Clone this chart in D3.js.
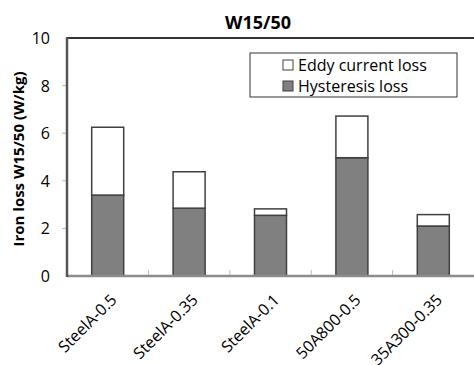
<!DOCTYPE html>
<html lang="en">
<head>
<meta charset="UTF-8">
<title>W15/50</title>
<script src="https://cdn.jsdelivr.net/npm/d3@7"></script>
<style>
  body { margin: 0; background: #fff; }
  text { font-family: "Open Sans", "Liberation Sans", sans-serif; fill: #000; }
</style>
</head>
<body>
<svg id="chart" width="474" height="365"></svg>
<script>
// data
var categories = ["SteelA-0.5", "SteelA-0.35", "SteelA-0.1", "50A800-0.5", "35A300-0.35"];
var hysteresis = [3.4, 2.85, 2.55, 4.97, 2.1];
var eddy = [2.85, 1.53, 0.27, 1.75, 0.48];
var yTicks = [0, 2, 4, 6, 8, 10];
var seriesNames = ["Eddy current loss", "Hysteresis loss"];

var svg = d3.select("#chart");
var plotL = 67, plotT = 38, plotR = 474, plotB = 276;

var x = d3.scaleBand().domain(categories).range([plotL, plotR]).paddingInner(0).paddingOuter(0);
var y = d3.scaleLinear().domain([0, 10]).range([plotB, plotT]);
var barW = 32;

// title
svg.append("text")
    .attr("x", 258).attr("y", 29)
    .attr("text-anchor", "middle")
    .style("font-size", "18px").style("font-weight", "bold")
    .text("W15/50");

// y axis label
svg.append("text")
    .attr("transform", "translate(24," + ((plotT + plotB) / 2 + 2) + ") rotate(-90)")
    .attr("text-anchor", "middle")
    .style("font-size", "15px").style("font-weight", "bold")
    .text("Iron loss W15/50  (W/kg)");

// y ticks
var yAxis = svg.append("g");
yAxis.selectAll("line").data(yTicks.slice(1, -1)).enter().append("line")
    .attr("x1", plotL - 5).attr("x2", plotL)
    .attr("y1", function (d) { return y(d); }).attr("y2", function (d) { return y(d); })
    .attr("stroke", "#bbb").attr("stroke-width", 1);
yAxis.selectAll("text").data(yTicks).enter().append("text")
    .attr("x", 50).attr("y", function (d) { return y(d) + 6; })
    .attr("text-anchor", "end")
    .style("font-size", "16px")
    .text(function (d) { return d; });

// x ticks between categories
svg.append("g").selectAll("line").data(categories.slice(1)).enter().append("line")
    .attr("x1", function (d) { return x(d); }).attr("x2", function (d) { return x(d); })
    .attr("y1", plotB - 6).attr("y2", plotB)
    .attr("stroke", "#bbb").attr("stroke-width", 1);

// bars
var g = svg.append("g");
categories.forEach(function (c, i) {
    var cx = x(c) + x.bandwidth() / 2;
    g.append("rect")
        .attr("x", cx - barW / 2).attr("y", y(hysteresis[i]))
        .attr("width", barW).attr("height", y(0) - y(hysteresis[i]))
        .attr("fill", "#808080").attr("stroke", "#404040").attr("stroke-width", 1.5);
    g.append("rect")
        .attr("x", cx - barW / 2).attr("y", y(hysteresis[i] + eddy[i]))
        .attr("width", barW).attr("height", y(hysteresis[i]) - y(hysteresis[i] + eddy[i]))
        .attr("fill", "#fff").attr("stroke", "#404040").attr("stroke-width", 1.5);
});

// axes lines
svg.append("line").attr("x1", plotL).attr("x2", plotR).attr("y1", plotB).attr("y2", plotB)
    .attr("stroke", "#8c8c8c").attr("stroke-width", 2.5);
svg.append("line").attr("x1", plotL).attr("x2", plotR).attr("y1", plotT).attr("y2", plotT)
    .attr("stroke", "#333").attr("stroke-width", 2);
svg.append("line").attr("x1", plotL).attr("x2", plotL).attr("y1", plotT - 1).attr("y2", plotB + 1)
    .attr("stroke", "#555").attr("stroke-width", 2.5);

// x labels
svg.append("g").selectAll("text").data(categories).enter().append("text")
    .attr("transform", function (d) {
        return "translate(" + (x(d) + x.bandwidth() / 2 + 2) + "," + (plotB + 17) + ") rotate(-45)";
    })
    .attr("text-anchor", "end")
    .attr("dy", "0.7em")
    .style("font-size", "16px")
    .text(function (d) { return d; });

// legend
var lg = svg.append("g");
lg.append("rect").attr("x", 250).attr("y", 53).attr("width", 207).attr("height", 44)
    .attr("fill", "#fff").attr("stroke", "#333").attr("stroke-width", 1);
var legendFill = ["#fff", "#808080"];
seriesNames.forEach(function (s, i) {
    lg.append("rect").attr("x", 283).attr("y", 60 + i * 21).attr("width", 10).attr("height", 10)
        .attr("fill", legendFill[i]).attr("stroke", "#404040").attr("stroke-width", 1);
    lg.append("text").attr("x", 298).attr("y", 71 + i * 21)
        .style("font-size", "16px").text(s);
});
</script>
</body>
</html>
